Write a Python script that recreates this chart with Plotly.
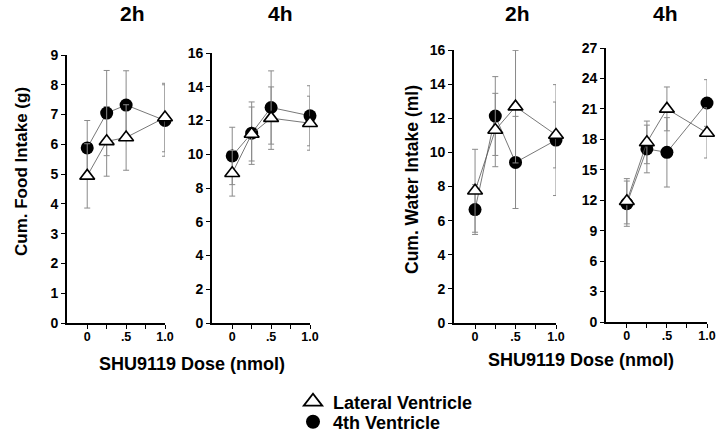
import plotly.graph_objects as go

# ---------------- data ----------------
dose = [0, 0.25, 0.5, 1.0]
x_tickvals = [0, 0.25, 0.5, 0.75, 1.0]
x_ticktext = ["0", "", ".5", "", "1.0"]

# Panel 1: Food intake, 2h
food2_lat = [4.94, 6.10, 6.23, 6.90]
food2_lat_err = [1.08, 1.17, 1.10, 1.15]
food2_4th = [5.88, 7.05, 7.32, 6.80]
food2_4th_err = [0.92, 1.43, 1.15, 1.20]

# Panel 2: Food intake, 4h
food4_lat = [8.87, 11.20, 12.14, 11.84]
food4_lat_err = [1.35, 1.60, 1.85, 1.60]
food4_4th = [9.90, 11.25, 12.77, 12.28]
food4_4th_err = [1.70, 1.85, 2.17, 1.78]

# Panel 3: Water intake, 2h
water2_lat = [7.75, 11.31, 12.68, 11.02]
water2_lat_err = [2.43, 2.15, 3.30, 1.93]
water2_4th = [6.65, 12.13, 9.41, 10.72]
water2_4th_err = [1.46, 2.31, 2.70, 3.25]

# Panel 4: Water intake, 4h
water4_lat = [11.90, 17.70, 21.00, 18.63]
water4_lat_err = [2.23, 2.10, 2.16, 2.47]
water4_4th = [11.66, 17.05, 16.72, 21.58]
water4_4th_err = [2.23, 2.35, 3.42, 2.30]

panel_titles = ["2h", "4h", "2h", "4h"]
y_titles = ["Cum. Food Intake (g)", "Cum. Water Intake (ml)"]
x_title = "SHU9119 Dose (nmol)"
y_ranges = [[0, 9], [0, 16], [0, 16], [0, 27]]
y_dticks = [1, 2, 2, 3]
series_names = ["Lateral Ventricle", "4th Ventricle"]

FONT = "Liberation Sans, Arial, Helvetica, sans-serif"

panels = [
    (food2_lat, food2_lat_err, food2_4th, food2_4th_err),
    (food4_lat, food4_lat_err, food4_4th, food4_4th_err),
    (water2_lat, water2_lat_err, water2_4th, water2_4th_err),
    (water4_lat, water4_lat_err, water4_4th, water4_4th_err),
]

# layout geometry (pixels in a 720x433 canvas)
W, H = 720, 433
x_dom_px = [(67, 165), (212, 310), (454, 556), (606, 707)]
y_dom_px = [(55, 323), (53, 323), (50, 323), (48, 322)]

fig = go.Figure()

for i, (lat, lat_e, fourth, fourth_e) in enumerate(panels):
    xa = "x" if i == 0 else f"x{i+1}"
    ya = "y" if i == 0 else f"y{i+1}"
    # 4th ventricle (filled circles)
    fig.add_trace(go.Scatter(
        x=dose, y=fourth, mode="lines+markers", xaxis=xa, yaxis=ya,
        line=dict(color="#555555", width=0.8),
        marker=dict(symbol="circle", size=13, color="black"),
        error_y=dict(type="data", array=fourth_e, visible=True,
                     color="#8a8a8a", thickness=1, width=3),
        showlegend=False, cliponaxis=False,
    ))
    # lateral ventricle (open triangles)
    fig.add_trace(go.Scatter(
        x=dose, y=lat, mode="lines+markers", xaxis=xa, yaxis=ya,
        line=dict(color="#555555", width=0.8),
        marker=dict(symbol="triangle-up", size=13, color="white",
                    line=dict(color="black", width=1.6)),
        error_y=dict(type="data", array=lat_e, visible=True,
                     color="#8a8a8a", thickness=1, width=3),
        showlegend=False, cliponaxis=False,
    ))

# legend-only entries (each in its own legend box for precise placement)
fig.add_trace(go.Scatter(
    x=[None], y=[None], mode="markers", name=series_names[0], legend="legend",
    marker=dict(symbol="triangle-up", size=16, color="white",
                line=dict(color="black", width=1.8)),
))
fig.add_trace(go.Scatter(
    x=[None], y=[None], mode="markers", name=series_names[1], legend="legend2",
    marker=dict(symbol="circle", size=14, color="black"),
))

axis_common = dict(
    showline=True, linecolor="black", linewidth=1.6,
    ticks="outside", tickcolor="black", ticklen=4, tickwidth=1.3,
    showgrid=False, zeroline=False, automargin=False,
)

legend_common = dict(
    xanchor="left", yanchor="middle",
    font=dict(family=FONT, size=18, color="black", weight="bold"),
    bgcolor="rgba(0,0,0,0)", borderwidth=0, itemwidth=30,
)

layout = dict(
    width=W, height=H, autosize=False,
    margin=dict(l=0, r=0, t=0, b=0, pad=0, autoexpand=False),
    paper_bgcolor="white", plot_bgcolor="white",
    font=dict(family=FONT, color="black"),
    showlegend=True,
    legend=dict(legend_common, x=293 / W, y=1 - 402 / H),
    legend2=dict(legend_common, x=293 / W, y=1 - 422 / H),
)

for i in range(4):
    xk = "xaxis" if i == 0 else f"xaxis{i+1}"
    yk = "yaxis" if i == 0 else f"yaxis{i+1}"
    xs = "y" if i == 0 else f"y{i+1}"
    ys = "x" if i == 0 else f"x{i+1}"
    x0, x1 = x_dom_px[i]
    yt, yb = y_dom_px[i]
    layout[xk] = dict(
        axis_common, domain=[x0 / W, x1 / W], anchor=xs,
        range=[-0.26, 1.0], tickvals=x_tickvals, ticktext=x_ticktext,
        ticklabelstandoff=-3,
        tickfont=dict(family=FONT, size=12.5, color="black", weight="bold"),
    )
    layout[yk] = dict(
        axis_common, domain=[1 - yb / H, 1 - yt / H], anchor=ys,
        range=y_ranges[i], dtick=y_dticks[i], tick0=0,
        tickfont=dict(family=FONT, size=14, color="black", weight="bold"),
    )

fig.update_layout(**layout)

annotations = []
title_x_px = [132, 280, 517, 665]
for i, t in enumerate(panel_titles):
    annotations.append(dict(
        text=t, x=title_x_px[i] / W, y=1 - 14 / H, xref="paper", yref="paper",
        showarrow=False, xanchor="center", yanchor="middle",
        font=dict(family=FONT, size=21, color="black", weight="bold"),
    ))

annotations += [
    dict(text=y_titles[0], x=22 / W, y=1 - 172 / H,
         xref="paper", yref="paper", showarrow=False, textangle=-90,
         xanchor="center", yanchor="middle",
         font=dict(family=FONT, size=17, color="black", weight="bold")),
    dict(text=y_titles[1], x=412 / W, y=1 - 180 / H,
         xref="paper", yref="paper", showarrow=False, textangle=-90,
         xanchor="center", yanchor="middle",
         font=dict(family=FONT, size=17.5, color="black", weight="bold")),
    dict(text=x_title, x=192 / W, y=1 - 364 / H,
         xref="paper", yref="paper", showarrow=False,
         xanchor="center", yanchor="middle",
         font=dict(family=FONT, size=18, color="black", weight="bold")),
    dict(text=x_title, x=581 / W, y=1 - 360 / H,
         xref="paper", yref="paper", showarrow=False,
         xanchor="center", yanchor="middle",
         font=dict(family=FONT, size=18, color="black", weight="bold")),
]
fig.update_layout(annotations=annotations)

fig.write_html(
    "out.html",
    config={"displayModeBar": False},
    post_script="document.body.style.margin='0';document.body.style.overflow='hidden';",
)
